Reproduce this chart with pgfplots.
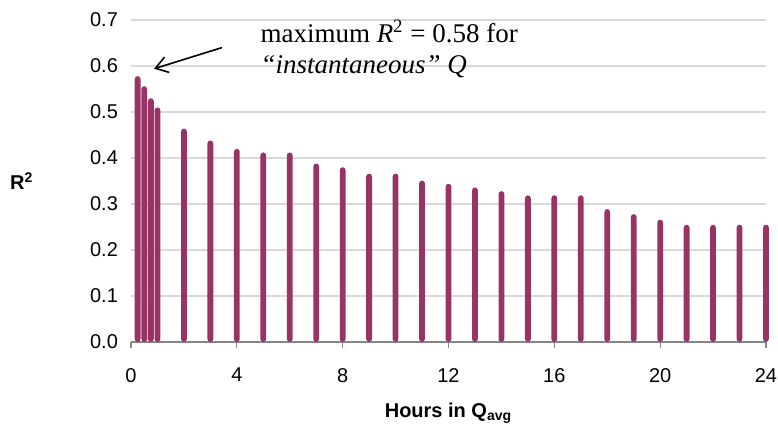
\documentclass[border=0pt]{standalone}
\usepackage{pgfplots}
\pgfplotsset{compat=1.18}
\usepackage{fontspec}
\setmainfont{Liberation Sans}
\newfontfamily\timesfont{Liberation Serif}
\usetikzlibrary{arrows.meta}
\definecolor{barplum}{RGB}{153,51,102}
\definecolor{gridgray}{RGB}{217,217,217}
\definecolor{axisgray}{RGB}{134,134,134}

\begin{document}
\begin{tikzpicture}
\path[use as bounding box] (0,0) rectangle (389pt,213pt);
\begin{axis}[
  at={(65.5pt,42pt)}, anchor=south west,
  scale only axis, width=317.5pt, height=161pt,
  ybar, bar width=0.22,
  xmin=0, xmax=24, ymin=0, ymax=0.7,
  clip=false,
  axis x line=bottom, axis y line=left,
  x axis line style={-, axisgray, line width=0.7pt},
  y axis line style={draw=none},
  xtick={0,4,8,12,16,20,24},
  ytick={0,0.1,0.2,0.3,0.4,0.5,0.6,0.7},
  ymajorgrids=true, xmajorgrids=false,
  grid style={gridgray, line width=0.6pt},
  ytick style={draw=none},
  xtick style={axisgray, line width=0.6pt},
  tick align=outside, major tick length=3pt,
  /pgf/number format/assume math mode=true,
  tick label style={font=\fontsize{10}{12}\selectfont},
  yticklabel style={/pgf/number format/.cd, fixed, fixed zerofill, precision=1},
  xticklabel style={yshift=-6.5pt},
  xlabel={\textbf{Hours in Q\textsubscript{avg}}},
  xlabel style={font=\fontsize{10}{12}\selectfont, at={(axis description cs:0.5,-0.236)}, anchor=base},
  ylabel={\textbf{R\textsuperscript{2}}},
  ylabel style={font=\fontsize{10}{12}\selectfont, rotate=-90, at={(axis description cs:-0.172,0.5)}, anchor=center},
]
\addplot[fill=barplum, draw=none, rounded corners=1.5pt] coordinates {
  (0.25,0.578) (0.5,0.556) (0.75,0.530) (1,0.510)
  (2,0.464) (3,0.438) (4,0.420) (5,0.412) (6,0.412)
  (7,0.388) (8,0.380) (9,0.366) (10,0.366) (11,0.351)
  (12,0.344) (13,0.336) (14,0.328) (15,0.319) (16,0.319)
  (17,0.319) (18,0.289) (19,0.278) (20,0.266) (21,0.255)
  (22,0.255) (23,0.255) (24,0.255)
};
% annotation
\draw[-{Straight Barb[length=6pt,width=8pt]}, line width=0.8pt]
  (axis cs:3.44,0.640) -- (axis cs:0.87,0.594);
\node[anchor=base west, inner sep=0pt, font=\timesfont\fontsize{13.5}{16}\selectfont]
  at (axis cs:4.88,0.651) {maximum \textit{R}\textsuperscript{2} = 0.58 for};
\node[anchor=base west, inner sep=0pt, font=\timesfont\itshape\fontsize{13.5}{16}\selectfont]
  at (axis cs:4.88,0.584) {“instantaneous” Q};
\end{axis}
\end{tikzpicture}
\end{document}
